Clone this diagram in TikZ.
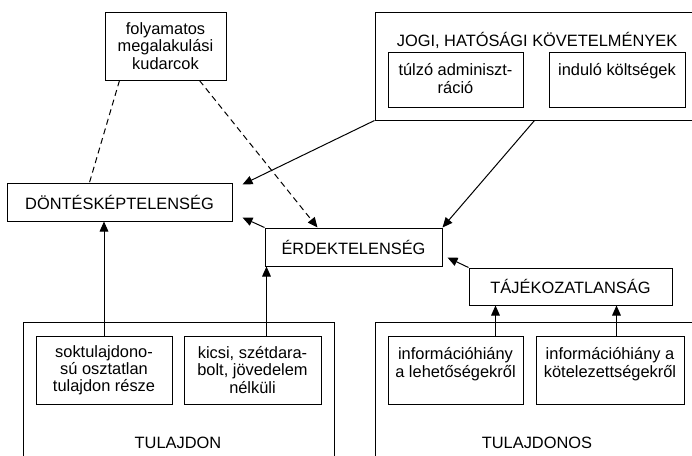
\documentclass[tikz,border=0pt]{standalone}
\usepackage{fontspec}
\setmainfont{Liberation Sans}
\usetikzlibrary{positioning,calc,arrows.meta}
\tikzset{
  box/.style={draw, line width=0.75pt, inner sep=0pt, align=center},
  toptext/.style={label={[align=center, anchor=north, inner sep=9pt]north:#1}},
  link/.style={line width=0.75pt, -{Triangle[length=7.5pt,width=6.5pt]}},
  dashlink/.style={line width=0.75pt, dash pattern=on 4.5pt off 3pt}
}
\begin{document}
\begin{tikzpicture}[x=0.75pt, y=-0.75pt, font=\fontsize{12.3}{12.9}\selectfont]
  \path[use as bounding box, clip] (0,0) rectangle (692,455);
  \fill[white] (0,0) rectangle (692,455);

  \node (jogi) [box, minimum width=258.75pt, minimum height=81pt] at (547.5,66) {};
  \node (jogititle) at (537,40) {JOGI, HATÓSÁGI KÖVETELMÉNYEK};
  \node (tulzo) [box, minimum width=101.25pt, minimum height=41.25pt,
    toptext={túlzó adminiszt-\\ráció}] at (455.5,79.5) {};
  \node (indulo) [box, minimum width=102pt, minimum height=41.25pt,
    toptext={induló költségek}] at (617,79.5) {};

  \node (folyam) [box, minimum width=90.75pt, minimum height=51pt] at (165.5,46)
    {folyamatos\\megalakulási\\kudarcok};
  \node (dont) [box, minimum width=168.75pt, minimum height=28.5pt] at (119.5,202)
    {DÖNTÉSKÉPTELENSÉG};
  \node (erdek) [box, minimum width=132.75pt, minimum height=28.5pt] at (353.5,247)
    {ÉRDEKTELENSÉG};
  \node (tajek) [box, minimum width=152.25pt, minimum height=27.75pt] at (570.5,286.5)
    {TÁJÉKOZATLANSÁG};

  \node (tulajdon) [box, minimum width=233.25pt, minimum height=148.5pt] at (178.5,421) {};
  \node (tulajdontitle) at (178,443) {TULAJDON};
  \node (soktul) [box, minimum width=102pt, minimum height=51pt] at (104,370)
    {soktulajdono-\\sú osztatlan\\tulajdon része};
  \node (kicsi) [box, minimum width=102.75pt, minimum height=51pt] at (252.5,370)
    {kicsi, szétdara-\\bolt, jövedelem\\nélküli};

  \node (tulajdonos) [box, minimum width=258.75pt, minimum height=148.5pt] at (547.5,421) {};
  \node (tulajdonostitle) at (537,443) {TULAJDONOS};
  \node (info1) [box, minimum width=101.25pt, minimum height=51pt,
    toptext={információhiány\\a lehetőségekről}] at (455.5,370) {};
  \node (info2) [box, minimum width=111pt, minimum height=51pt,
    toptext={információhiány a\\kötelezettségekről}] at (610,370) {};

  \draw[dashlink] ($(folyam.south west)+(15,0)$) -- ($(dont.north west)+(83,0)$);
  \draw[dashlink, -{Triangle[length=7.5pt,width=6.5pt]}]
    ($(folyam.south west)+(95,0)$) -- ($(erdek.north west)+(53,0)$);
  \draw[link] (jogi.south west) -- ($(dont.north east)+(10,2)$);
  \draw[link] ($(jogi.south west)+(160,0)$) -- (erdek.north east);
  \draw[link] (erdek.north west) -- ($(dont.south east)+(10,-4)$);
  \draw[link] (soktul.north) -- (soktul.north |- dont.south);
  \draw[link] ($(kicsi.north west)+(83,0)$) coordinate (kicsitop) -- (kicsitop |- erdek.south);
  \draw[link] (tajek.north west) -- ($(erdek.south east)+(5,-9)$);
  \draw[link] ($(info1.north west)+(108,0)$) coordinate (info1top) -- (info1top |- tajek.south);
  \draw[link] ($(info2.north west)+(81,0)$) coordinate (info2top) -- (info2top |- tajek.south);
\end{tikzpicture}
\end{document}
